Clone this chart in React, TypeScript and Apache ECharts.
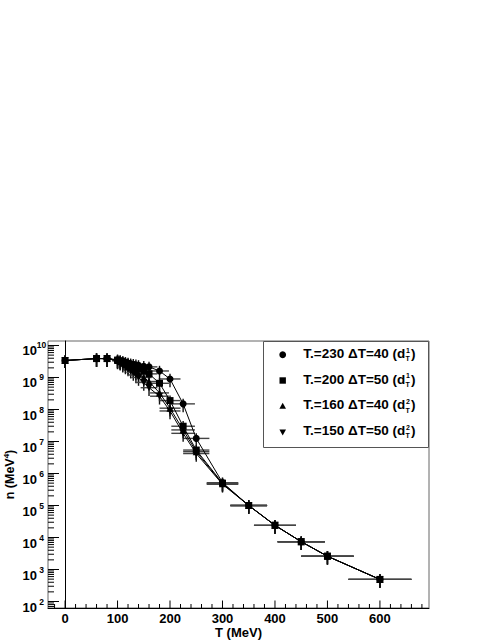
import React, { useEffect, useRef } from "react";
import * as echarts from "echarts";

// Temperatures (MeV) of the points, shared by all four curves
const temps = [0, 60, 80, 100, 105, 110, 115, 120, 125, 130, 135, 140, 150, 160, 180, 200, 225, 250, 300, 350, 400, 450, 500, 600];
// Horizontal error (MeV)
const tErr = [0, 6, 8, 10, 10.5, 11, 11.5, 12, 12.5, 13, 13.5, 14, 15, 16, 18, 20, 22.5, 25, 30, 35, 40, 45, 50, 60];
// Relative vertical error
const nErrRel = [0.42, 0.45, 0.45, 0.45, 0.45, 0.45, 0.45, 0.45, 0.45, 0.45, 0.45, 0.45, 0.45, 0.45, 0.45, 0.45, 0.45, 0.45, 0.45, 0.45, 0.45, 0.45, 0.45, 0.45];

// n (MeV^4)
const nCircle = [3.4e9, 3.9e9, 3.9e9, 3.6e9, 3.4e9, 3.2e9, 3.0e9, 2.85e9, 2.7e9, 2.6e9, 2.5e9, 2.4e9, 2.25e9, 2.15e9, 1.6e9, 9.0e8, 1.5e8, 1.25e7, 5.2e5, 1.0e5, 2.4e4, 7.4e3, 2.6e3, 4.9e2];
const nSquare = [3.4e9, 3.9e9, 3.9e9, 3.5e9, 3.3e9, 3.1e9, 2.9e9, 2.7e9, 2.5e9, 2.3e9, 2.1e9, 1.9e9, 1.6e9, 1.3e9, 6.6e8, 1.9e8, 3.0e7, 5.4e6, 5.0e5, 1.0e5, 2.4e4, 7.4e3, 2.6e3, 4.9e2];
const nTriUp = [3.4e9, 3.9e9, 3.9e9, 3.4e9, 3.1e9, 2.8e9, 2.5e9, 2.2e9, 2.0e9, 1.75e9, 1.5e9, 1.3e9, 1.0e9, 7.5e8, 3.3e8, 1.1e8, 2.3e7, 4.8e6, 4.8e5, 1.0e5, 2.4e4, 7.4e3, 2.6e3, 4.9e2];
const nTriDown = [3.4e9, 3.9e9, 3.9e9, 3.3e9, 3.0e9, 2.6e9, 2.3e9, 2.0e9, 1.7e9, 1.45e9, 1.2e9, 1.0e9, 7.0e8, 4.8e8, 2.6e8, 9.0e7, 1.8e7, 4.2e6, 4.6e5, 1.0e5, 2.4e4, 7.4e3, 2.6e3, 4.9e2];

const legendMain = ["T.=230 \u0394T=40 (d", "T.=200 \u0394T=50 (d", "T.=160 \u0394T=40 (d", "T.=150 \u0394T=50 (d"];
const legendSup = ["1", "1", "2", "2"];
const legendSub = ["T", "T", "T", "T"];

const xMajorTicks = [0, 100, 200, 300, 400, 500, 600];
const yMajorExps = [2, 3, 4, 5, 6, 7, 8, 9, 10];
const xTitle = "T (MeV)";

const X_MIN = -32.5;
const X_MAX = 693.5;
const Y_MIN = Math.pow(10, 1.797);
const Y_MAX = Math.pow(10, 10.1406);

const FONT = "'Liberation Sans', Arial, Helvetica, sans-serif";

function measure(txt: string, font: string): number {
  const c = document.createElement("canvas").getContext("2d");
  if (!c) return txt.length * 7;
  c.font = font;
  return c.measureText(txt).width;
}

export default function App() {
  const ref = useRef<HTMLDivElement>(null);
  useEffect(() => {
    if (!ref.current) return;
    const chart = echarts.init(ref.current, undefined, { renderer: "svg" });

    // tick data: [x, y, kind(0 = x-axis, 1 = y-axis), length]
    const tickData: number[][] = [];
    for (let v = -20; v <= 680; v += 20) {
      const major = xMajorTicks.indexOf(v) >= 0;
      tickData.push([v, Y_MIN, 0, major ? 7.5 : 4]);
    }
    for (let e = 1; e <= 10; e++) {
      for (let k = 1; k <= 9; k++) {
        const v = k * Math.pow(10, e);
        if (v <= Y_MIN || v >= Y_MAX) continue;
        const major = k === 1 && yMajorExps.indexOf(e) >= 0;
        tickData.push([X_MIN, v, 1, major ? 11 : 6]);
      }
    }

    const errSeries = (vals: number[]) => ({
      type: "custom",
      coordinateSystem: "cartesian2d",
      silent: true,
      z: 2,
      encode: { x: 0, y: 1 },
      data: temps.map((t, i) => [t, vals[i], tErr[i], vals[i] * nErrRel[i]]),
      renderItem: (params: any, api: any) => {
        const x = api.value(0), y = api.value(1), dx = api.value(2), dy = api.value(3);
        const l = api.coord([x - dx, y]);
        const r = api.coord([x + dx, y]);
        const t = api.coord([x, y + dy]);
        const b = api.coord([x, y - dy]);
        return {
          type: "group",
          children: [
            { type: "line", shape: { x1: l[0], y1: l[1], x2: r[0], y2: r[1] }, style: { stroke: "#444", lineWidth: 1.4 } },
            { type: "line", shape: { x1: t[0], y1: t[1], x2: b[0], y2: b[1] }, style: { stroke: "#111", lineWidth: 1.4 } },
          ],
        };
      },
    });

    const lineSeries = (name: string, vals: number[], symbol: string, size: number, rotate = 0) => ({
      name,
      type: "line",
      z: 3,
      data: temps.map((t, i) => [t, vals[i]]),
      symbol,
      symbolSize: size,
      symbolRotate: rotate,
      showSymbol: true,
      lineStyle: { color: "#000", width: 1 },
      itemStyle: { color: "#000" },
      emphasis: { disabled: true },
    });

    const legendFont = `bold 13.5px ${FONT}`;
    const rows = [353.2, 379, 404.8, 430.6];
    const markerX = 282.7;
    const textX = 303.3;
    const legendChildren: any[] = [
      {
        type: "rect",
        shape: { x: 263.5, y: 341.5, width: 165, height: 106 },
        style: { fill: "#fff", stroke: "#555", lineWidth: 1 },
      },
    ];
    const markers = [
      { type: "circle", shape: { cx: markerX, cy: rows[0] + 1.5, r: 3.4 }, style: { fill: "#000" } },
      { type: "rect", shape: { x: markerX - 3.2, y: rows[1] + 1.5 - 3.2, width: 6.4, height: 6.4 }, style: { fill: "#000" } },
      {
        type: "polygon",
        shape: { points: [[markerX, rows[2] - 2], [markerX - 3.3, rows[2] + 4], [markerX + 3.3, rows[2] + 4]] },
        style: { fill: "#000" },
      },
      {
        type: "polygon",
        shape: { points: [[markerX, rows[3] + 5], [markerX - 3.3, rows[3] - 1], [markerX + 3.3, rows[3] - 1]] },
        style: { fill: "#000" },
      },
    ];
    legendChildren.push(...markers);
    legendMain.forEach((txt, i) => {
      const w = measure(txt, legendFont);
      const y = rows[i];
      legendChildren.push({
        type: "text",
        x: textX,
        y,
        style: { text: txt, fontSize: 13.5, fontWeight: "bold", fontFamily: FONT, fill: "#000", align: "left", verticalAlign: "middle" },
      });
      legendChildren.push({
        type: "text",
        x: textX + w + 0.8,
        y: y - 3.2,
        style: { text: legendSup[i], fontSize: 7, fontWeight: "bold", fontFamily: FONT, fill: "#000", align: "left", verticalAlign: "middle" },
      });
      legendChildren.push({
        type: "text",
        x: textX + w + 0.3,
        y: y + 5.2,
        style: { text: legendSub[i], fontSize: 7, fontWeight: "bold", fontFamily: FONT, fill: "#000", align: "left", verticalAlign: "middle" },
      });
      legendChildren.push({
        type: "text",
        x: textX + w + 5.8,
        y,
        style: { text: ")", fontSize: 13.5, fontWeight: "bold", fontFamily: FONT, fill: "#000", align: "left", verticalAlign: "middle" },
      });
    });

    chart.setOption({
      animation: false,
      backgroundColor: "#fff",
      textStyle: { fontFamily: FONT },
      grid: {
        left: 48,
        right: 50,
        top: 341,
        bottom: 34,
        containLabel: false,
        outerBoundsMode: "none",
        show: true,
        borderColor: "#666",
        borderWidth: 1,
        backgroundColor: "transparent",
      },
      xAxis: {
        type: "value",
        min: X_MIN,
        max: X_MAX,
        splitNumber: 7,
        name: xTitle,
        nameLocation: "middle",
        nameGap: 18,
        nameMoveOverlap: false,
        nameTextStyle: { fontSize: 13, fontWeight: "bold", color: "#000", fontFamily: FONT, verticalAlign: "top" },
        axisLine: { show: true, lineStyle: { color: "#000", width: 1 } },
        axisTick: { show: false },
        splitLine: { show: false },
        axisLabel: {
          margin: 3,
          fontSize: 13,
          fontWeight: "bold",
          color: "#000",
          fontFamily: FONT,
          lineHeight: 14,
          showMinLabel: true,
          showMaxLabel: true,
          formatter: (v: number) => (xMajorTicks.indexOf(Math.round(v)) >= 0 && Math.abs(v - Math.round(v)) < 1e-6 ? String(Math.round(v)) : ""),
        },
      },
      yAxis: {
        type: "log",
        logBase: 10,
        min: Y_MIN,
        max: Y_MAX,
        name: "n (MeV{s|4})",
        nameLocation: "middle",
        nameGap: 30,
        nameRotate: 90,
        nameMoveOverlap: false,
        nameTextStyle: {
          fontSize: 12.5,
          fontWeight: "bold",
          color: "#000",
          fontFamily: FONT,
          lineHeight: 16,
          rich: { s: { fontSize: 8, fontWeight: "bold", lineHeight: 10, verticalAlign: "top", color: "#000", fontFamily: FONT } },
        },
        axisLine: { show: true, lineStyle: { color: "#000", width: 1 } },
        axisTick: { show: false },
        splitLine: { show: false },
        minorTick: { show: false },
        axisLabel: {
          margin: 2,
          color: "#000",
          showMinLabel: true,
          showMaxLabel: true,
          formatter: (v: number) => {
            const e = Math.log10(v);
            const r = Math.round(e);
            if (Math.abs(e - r) > 1e-6 || yMajorExps.indexOf(r) < 0) return "";
            return `{b|10}{s|${r}}`;
          },
          rich: {
            b: { fontSize: 13, fontWeight: "bold", lineHeight: 14, verticalAlign: "bottom", color: "#000", fontFamily: FONT },
            s: { fontSize: 8.5, fontWeight: "bold", lineHeight: 24, width: 9, align: "left", color: "#000", fontFamily: FONT },
          },
        },
      },
      series: [
        errSeries(nCircle),
        errSeries(nTriUp),
        errSeries(nTriDown),
        errSeries(nSquare),
        lineSeries("T.=230 \u0394T=40", nCircle, "circle", 7),
        lineSeries("T.=160 \u0394T=40", nTriUp, "triangle", 7),
        lineSeries("T.=150 \u0394T=50", nTriDown, "triangle", 7, 180),
        lineSeries("T.=200 \u0394T=50", nSquare, "rect", 7),
        {
          type: "custom",
          coordinateSystem: "cartesian2d",
          silent: true,
          z: 4,
          encode: { x: 0, y: 1 },
          data: tickData,
          renderItem: (params: any, api: any) => {
            const p = api.coord([api.value(0), api.value(1)]);
            const kind = api.value(2);
            const len = api.value(3);
            const shape =
              kind === 0
                ? { x1: p[0], y1: p[1], x2: p[0], y2: p[1] - len }
                : { x1: p[0], y1: p[1], x2: p[0] + len, y2: p[1] };
            return { type: "line", shape, style: { stroke: "#000", lineWidth: 1 } };
          },
        },
      ],
      graphic: [{ type: "group", z: 100, children: legendChildren }],
    });
    return () => chart.dispose();
  }, []);
  return <div ref={ref} style={{ position: "fixed", left: 0, top: 0, width: 479, height: 642, background: "#fff" }} />;
}
